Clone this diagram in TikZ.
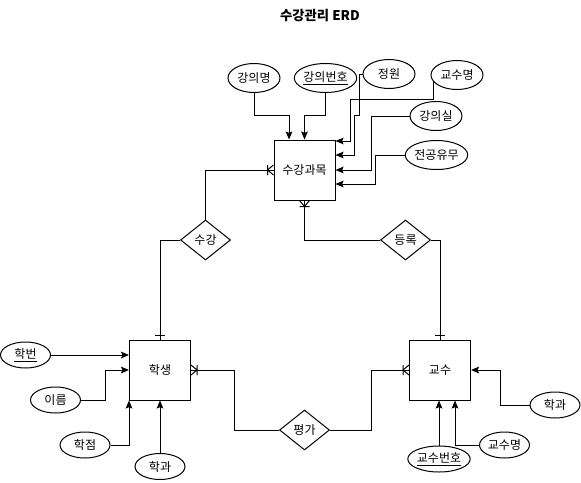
\documentclass[tikz,border=0pt]{standalone}
\usepackage{fontspec}
\setmainfont{Noto Sans CJK KR}
\usetikzlibrary{arrows.meta,shapes.geometric}

\tikzset{
  crow/.pic={\draw (0,-5) -- (-6,0) -- (0,5) (-6,-5) -- (-6,5);},
  onebar/.pic={\draw (-5,-4) -- (5,-4);}
}

\begin{document}
\begin{tikzpicture}[
  x=0.75pt, y=-0.75pt, line width=0.75pt,
  entity/.style={rectangle, draw, minimum width=45.75pt,
                 minimum height=45pt, font=\fontsize{9}{11}\selectfont},
  attr/.style={ellipse, draw, inner sep=0pt, minimum width=39pt,
               minimum height=21.75pt, font=\fontsize{9}{11}\selectfont},
  sattr/.style={attr, minimum width=37.5pt, minimum height=19.5pt},
  rel/.style={diamond, draw, inner sep=0pt, minimum width=37.5pt,
              minimum height=30pt, font=\fontsize{9}{11}\selectfont},
  arr/.style={-{Stealth[length=6pt,width=5pt,inset=1pt]}}
]
\useasboundingbox (0,0) rectangle (581,482);

\node[font=\fontsize{10}{12}\selectfont\bfseries] (title) at (320,16) {수강관리 ERD};

% entities
\node[entity] (course)  at (304.5,170) {수강과목};
\node[entity] (student) at (160,370)   {학생};
\node[entity] (prof)    at (440,370)   {교수};

% relationships
\node[rel] (take) at (205.5,240) {수강};
\node[rel] (reg)  at (405.5,240) {등록};
\node[rel] (eval) at (304.5,430) {평가};

% course attributes
\node[attr] (cname)  at (254,78)   {강의명};
\node[attr] (cno)    at (325.5,78) {\underline{강의번호}};
\node[attr] (cap)    at (389,74)   {정원};
\node[attr] (cprof)  at (457,75)   {교수명};
\node[attr] (room)   at (436,116)  {강의실};
\node[attr] (major)  at (436.5,155){전공유무};

% student attributes
\node[sattr] (sid)   at (25.5,355) {\underline{학번}};
\node[sattr] (sname) at (55.5,400) {이름};
\node[sattr] (grade) at (85,445)   {학점};
\node[sattr] (sdept) at (160,466.5){학과};

% professor attributes
\node[sattr] (pdept) at (555,405)   {학과};
\node[sattr] (pname) at (504.5,445) {교수명};
\node[sattr] (pid)   at (439,459)   {\underline{교수번호}};

\draw[arr] (cname.south) -- ++(0,22) -| ([xshift=-11.6pt]course.north);
\draw[arr] (cno.south) -- ++(0,22) -| (course.north);
\draw[arr] (cap.west) -- ++(-3,0) -- ++(0,41) -- ++(-5,0) |- ([yshift=11.25pt]course.east);
\draw[arr] (cprof.195) |- ++(-83,18.5) |- ([yshift=21.75pt]course.east);
\draw[arr] (room.west) -- ++(-38,0) |- (course.east);
\draw[arr] (major.west) -- ++(-29,0) |- ([yshift=-10.5pt]course.east);

\draw[arr] (sid.east) -- (sid.east -| student.west);
\draw[arr] (sname.east) -- ++(24.5,0) |- (student.west);
\draw[arr] (grade.east) -| (student.south west);
\draw[arr] (sdept.north) -- (student.south);

\draw[arr] (pdept.west) -- ++(-29,0) |- (prof.east);
\draw[arr] (pname.west) -| ([xshift=11.25pt]prof.south);
\draw[arr] (pid.north) -- (pid.north |- prof.south);

\draw (take.north) |- (course.west);
\draw (take.west) -| (student.north);
\draw (reg.west) -| (course.south);
\draw (reg.east) -| (prof.north);
\draw (eval.west) -- ++(-45,0) |- (student.east);
\draw (eval.east) -- ++(41,0) |- (prof.west);

\pic at (course.west) {crow};
\pic[rotate=90] at (course.south) {crow};
\pic[rotate=180] at (student.east) {crow};
\pic at (prof.west) {crow};
\pic at (student.north) {onebar};
\pic at (prof.north) {onebar};

\end{tikzpicture}
\end{document}
